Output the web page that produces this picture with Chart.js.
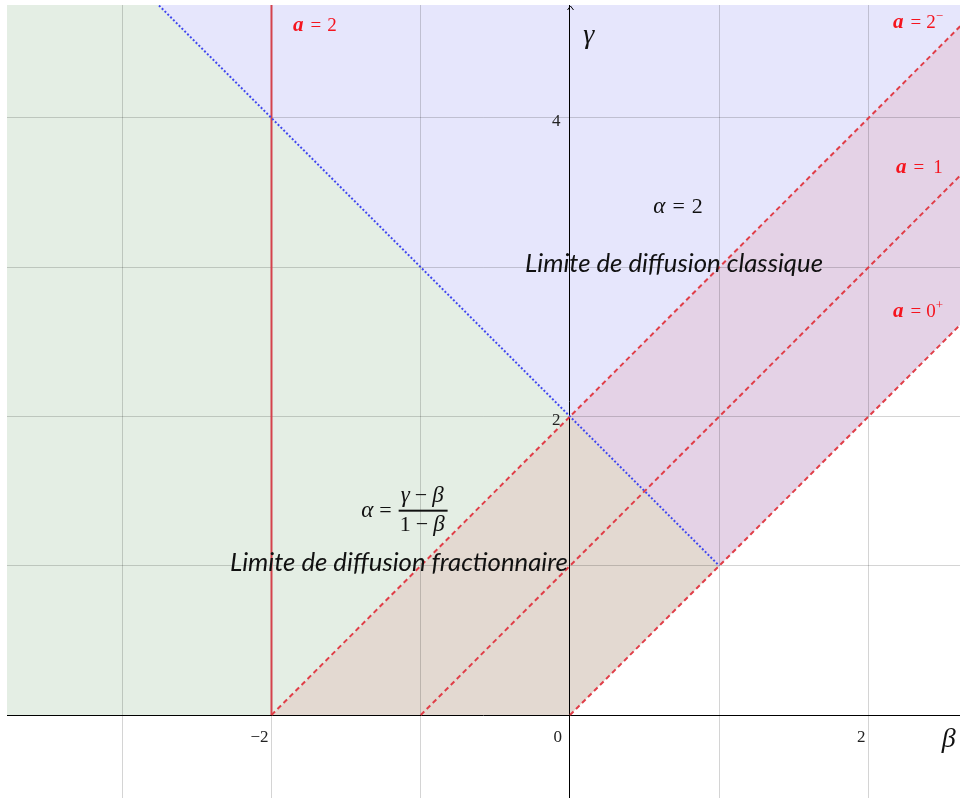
<!DOCTYPE html>
<html>
<head>
<meta charset="utf-8">
<script src="https://cdn.jsdelivr.net/npm/chart.js@4/dist/chart.umd.min.js"></script>
<style>
html,body{margin:0;padding:0;background:#fff;}
canvas{display:block;}
</style>
</head>
<body>
<canvas id="c" width="960" height="798"></canvas>
<script>
// ---- axis ranges (β horizontal, γ vertical) ----
const betaRange = [-3.772, 2.613];
const gammaRange = [-0.556, 4.757];
const betaGrid = [-3, -2, -1, 0, 1, 2];
const gammaGrid = [0, 1, 2, 3, 4];
const betaTickLabels = [-2, 0, 2];
const gammaTickLabels = [2, 4];

// ---- boundary lines, points as [β, γ] ----
const lineA0 = [[0, 0], [3, 3]];          // γ = β      (a = 0⁺)
const lineA1 = [[-1, 0], [3, 4]];         // γ = β + 1  (a = 1)
const lineA2 = [[-2, 0], [3, 5]];         // γ = β + 2  (a = 2⁻)
const lineClassic = [[-3, 5], [1, 1]];    // γ = 2 − β  (dotted)
const lineA2vert = [[-2, 0], [-2, 5]];    // β = −2     (a = 2)

// ---- regions (polygons), points as [β, γ] ----
const regionFrac = [[-4, 0], [-2, 0], [0, 2], [-4, 6]];
const regionClassic = [[0, 2], [4, 6], [-4, 6]];
const regionBandFrac = [[-2, 0], [0, 0], [1, 1], [0, 2]];
const regionBandClassic = [[1, 1], [4, 4], [4, 6], [0, 2]];

const pts = a => a.map(([x, y]) => ({x, y}));
function region(data, color) {
  return { data: pts(data), fill: 'shape', backgroundColor: color,
           borderColor: 'rgba(0,0,0,0)', borderWidth: 0, pointRadius: 0, tension: 0 };
}
function line(data, color, width, dash) {
  return { data: pts(data), fill: false, borderColor: color, borderWidth: width,
           borderDash: dash, pointRadius: 0, tension: 0, backgroundColor: color };
}

const serif = '"Liberation Serif", "DejaVu Serif", serif';
const sans = 'Lato, "Open Sans", sans-serif';

function drawRich(ctx, parts, x, y, align) {
  let w = 0;
  parts.forEach(p => { if (p.gap) { w += p.gap; return; } ctx.font = p.font; w += ctx.measureText(p.t).width; });
  let cx = align === 'center' ? x - w / 2 : (align === 'right' ? x - w : x);
  ctx.textAlign = 'left';
  parts.forEach(p => {
    if (p.gap) { cx += p.gap; return; }
    ctx.font = p.font;
    if (p.color) ctx.fillStyle = p.color;
    ctx.fillText(p.t, cx, y + (p.dy || 0));
    cx += ctx.measureText(p.t).width;
  });
}
function fitText(ctx, text, style, family, targetW, cx, baseY) {
  ctx.font = style + ' 20px ' + family;
  const size = 20 * targetW / ctx.measureText(text).width;
  ctx.font = style + ' ' + size.toFixed(2) + 'px ' + family;
  ctx.textAlign = 'center';
  ctx.fillText(text, cx, baseY);
}

const annot = {
  id: 'annot',
  afterDatasetsDraw(chart) {
    const {ctx, chartArea} = chart;
    const X = v => chart.scales.x.getPixelForValue(v);
    const Y = v => chart.scales.y.getPixelForValue(v);
    const x0 = Math.round(X(0)) + 0.5, y0 = Y(0);
    ctx.save();
    // y axis arrow
    ctx.strokeStyle = '#000'; ctx.lineWidth = 1;
    ctx.beginPath();
    ctx.moveTo(x0 - 3, chartArea.top + 5);
    ctx.lineTo(x0, chartArea.top + 1);
    ctx.lineTo(x0 + 3, chartArea.top + 5);
    ctx.stroke();

    // tick labels
    ctx.fillStyle = '#222';
    ctx.font = '17px ' + serif;
    ctx.textBaseline = 'alphabetic';
    ctx.textAlign = 'right';
    betaTickLabels.forEach(v => {
      const t = v < 0 ? '\u2212' + Math.abs(v) : String(v);
      ctx.fillText(t, X(v) - (v === 0 ? 8 : 3), y0 + 27);
    });
    gammaTickLabels.forEach(v => ctx.fillText(String(v), x0 - 10, Y(v) + 8));

    // axis names
    ctx.fillStyle = '#111';
    ctx.textAlign = 'center';
    ctx.font = 'italic 28px ' + serif;
    ctx.fillText('\u03b3', X(0.125), Y(4.505));
    ctx.fillText('\u03b2', X(2.537), Y(-0.214));

    // red a-labels
    const red = 'rgb(245,20,30)';
    const aF = 'bold italic 21px ' + serif, nF = '19px ' + serif, sF = '13px ' + serif;
    drawRich(ctx, [{t:'a', font:aF, color:red}, {gap:7}, {t:'=', font:nF}, {gap:6}, {t:'2', font:nF}], X(-1.856), Y(4.583), 'left');
    drawRich(ctx, [{t:'a', font:aF, color:red}, {gap:7}, {t:'=', font:nF}, {gap:5}, {t:'2', font:nF}, {t:'\u2212', font:sF, dy:-8}], X(2.164), Y(4.603), 'left');
    drawRich(ctx, [{t:'a', font:aF, color:red}, {gap:7}, {t:'=', font:nF}, {gap:9}, {t:'1', font:nF}], X(2.184), Y(3.629), 'left');
    drawRich(ctx, [{t:'a', font:aF, color:red}, {gap:7}, {t:'=', font:nF}, {gap:5}, {t:'0', font:nF}, {t:'+', font:sF, dy:-8}], X(2.164), Y(2.669), 'left');

    // α = 2
    ctx.fillStyle = '#111';
    const mI = 'italic 23px ' + serif, mR = '22px ' + serif;
    drawRich(ctx, [{t:'\u03b1', font:mI}, {gap:7}, {t:'=', font:mR}, {gap:7}, {t:'2', font:mR}], X(0.724), Y(3.363), 'center');

    // fraction α = (γ − β)/(1 − β)
    drawRich(ctx, [{t:'\u03b1', font:mI}, {gap:6}, {t:'=', font:mR}], X(-1.195), Y(1.325), 'right');
    ctx.fillRect(X(-1.148), Y(1.369) - 1, X(-0.82) - X(-1.148), 2);
    drawRich(ctx, [{t:'\u03b3', font:mI}, {gap:5}, {t:'\u2212', font:mR}, {gap:5}, {t:'\u03b2', font:mI}], X(-0.99), Y(1.43), 'center');
    drawRich(ctx, [{t:'1', font:mR}, {gap:5}, {t:'\u2212', font:mR}, {gap:5}, {t:'\u03b2', font:mI}], X(-0.99), Y(1.233), 'center');

    // italic captions
    fitText(ctx, 'Limite de diffusion classique', 'italic', sans, 298, X(0.697), Y(2.968));
    fitText(ctx, 'Limite de diffusion fractionnaire', 'italic', sans, 338, X(-1.146), Y(0.965));
    ctx.restore();
  }
};

const gridColor = c => (c.tick && c.tick.value === 0) ? '#000' : 'rgba(0,0,0,0.17)';

new Chart(document.getElementById('c'), {
  type: 'line',
  data: {
    datasets: [
      region(regionFrac, 'rgb(228,238,228)'),
      region(regionClassic, 'rgb(230,230,252)'),
      region(regionBandFrac, 'rgb(227,217,209)'),
      region(regionBandClassic, 'rgb(228,210,230)'),
      line(lineA0, 'rgb(224,62,72)', 2, [5, 3.5]),
      line(lineA1, 'rgb(224,62,72)', 2, [5, 3.5]),
      line(lineA2, 'rgb(224,62,72)', 2, [5, 3.5]),
      line(lineClassic, 'rgb(64,72,238)', 2, [2, 2]),
      line(lineA2vert, 'rgb(212,66,76)', 2, [])
    ]
  },
  options: {
    responsive: false,
    animation: false,
    devicePixelRatio: 1,
    layout: { padding: { left: 7, top: 5, right: 0, bottom: 0 } },
    plugins: {
      legend: { display: false },
      tooltip: { enabled: false },
      filler: { drawTime: 'beforeDraw' }
    },
    scales: {
      x: {
        type: 'linear', min: betaRange[0], max: betaRange[1],
        ticks: { display: false },
        border: { display: false },
        grid: { color: gridColor, lineWidth: 1, drawTicks: false },
        afterBuildTicks: s => { s.ticks = betaGrid.map(v => ({value: v})); }
      },
      y: {
        type: 'linear', min: gammaRange[0], max: gammaRange[1],
        ticks: { display: false },
        border: { display: false },
        grid: { color: gridColor, lineWidth: 1, drawTicks: false },
        afterBuildTicks: s => { s.ticks = gammaGrid.map(v => ({value: v})); }
      }
    }
  },
  plugins: [annot]
});
</script>
</body>
</html>
